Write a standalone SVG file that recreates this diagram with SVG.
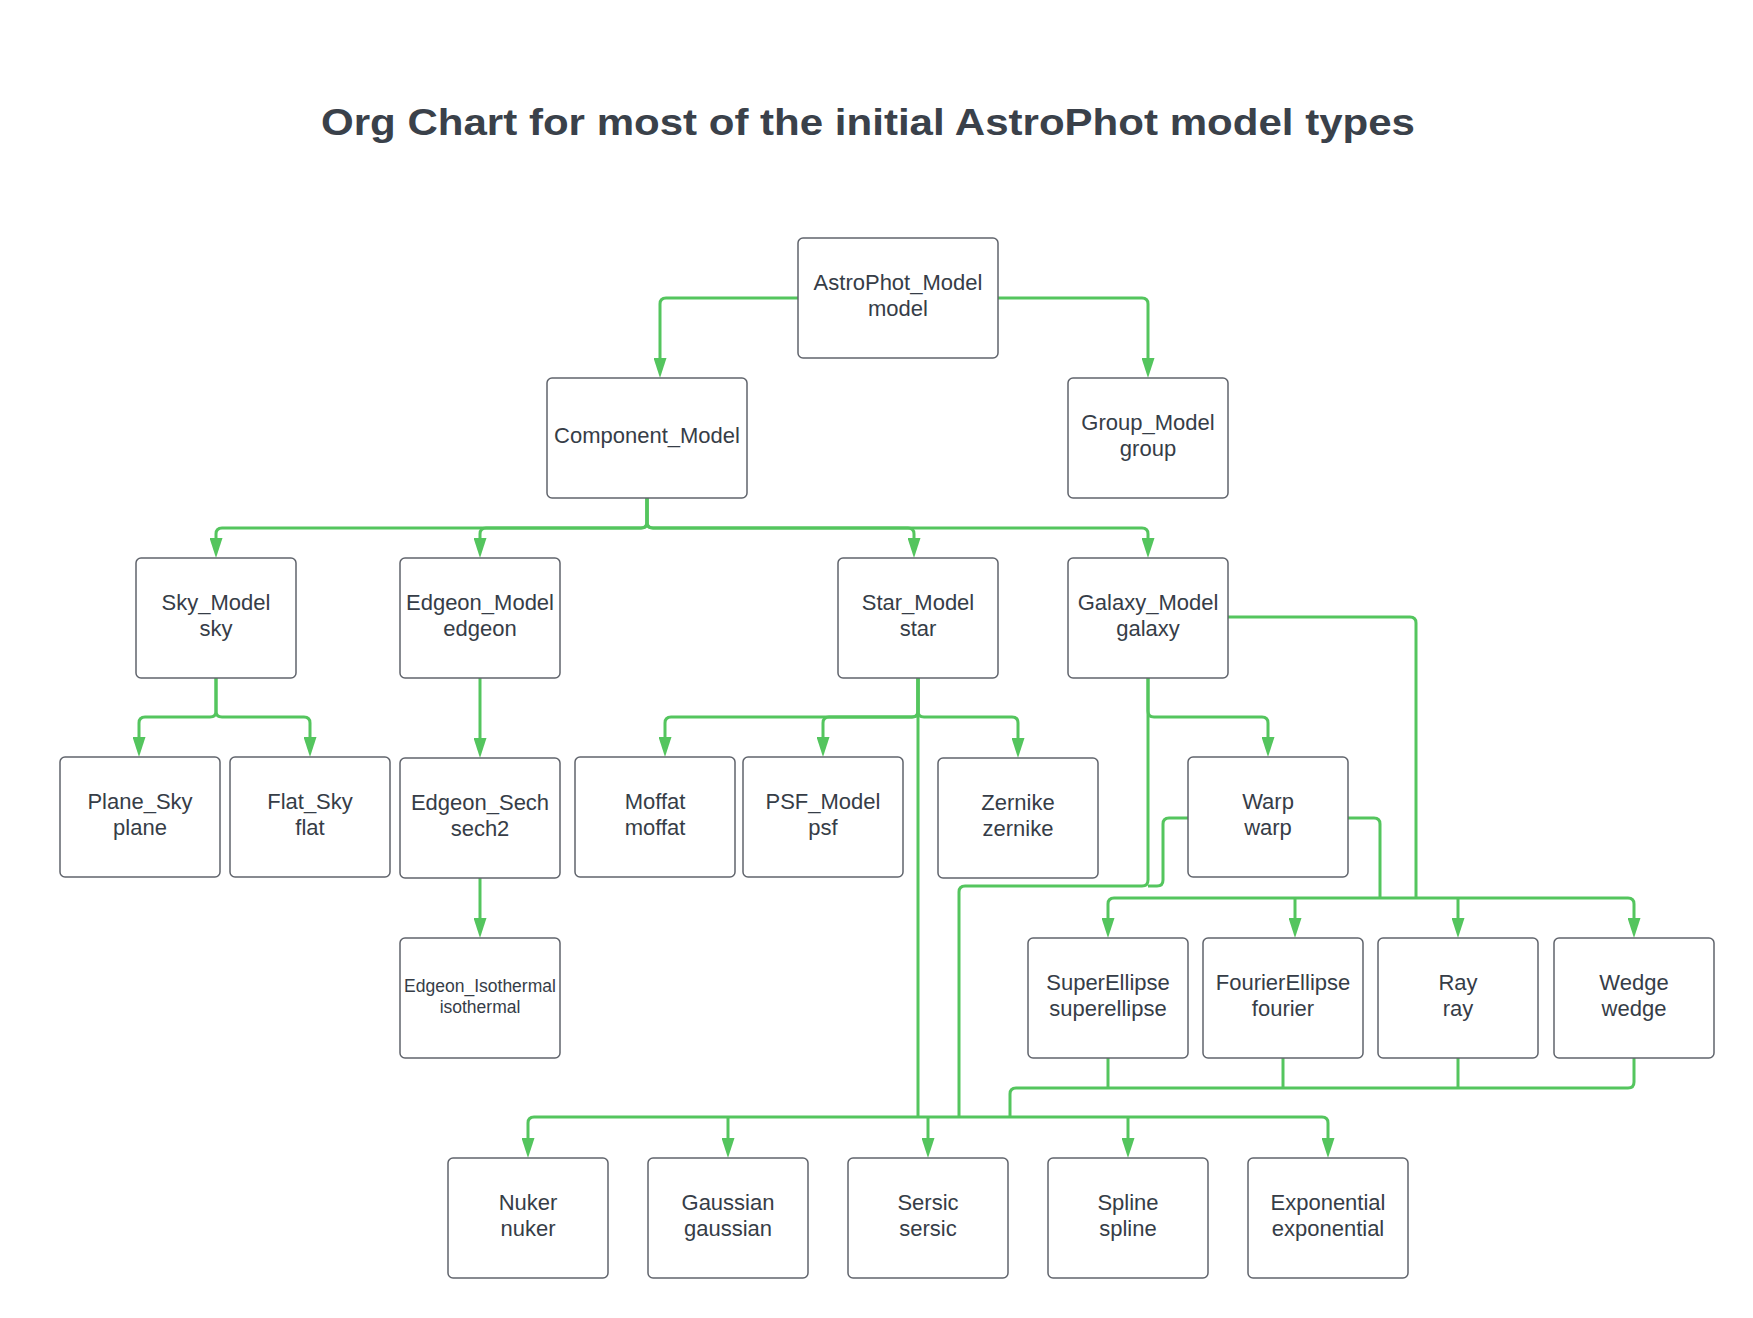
<svg xmlns="http://www.w3.org/2000/svg" width="1753" height="1318" viewBox="0 0 1753 1318">
<style>
.bg{fill:#ffffff}
.box{fill:#ffffff;stroke:#60646c;stroke-width:1.5}
.t{font-family:"Liberation Sans",Arial,sans-serif;font-size:22px;fill:#363d47;text-anchor:middle}
.ts{font-family:"Liberation Sans",Arial,sans-serif;font-size:17.5px;fill:#363d47;text-anchor:middle}
.title{font-family:"Liberation Sans",Arial,sans-serif;font-size:36px;font-weight:bold;fill:#3a414a}
.c{fill:none;stroke:#54c55e;stroke-width:3;stroke-linejoin:round}
.a{marker-end:url(#arr)}
.aa{marker-start:url(#arrs);marker-end:url(#arr)}
</style>
<defs>
<marker id="arr" markerUnits="userSpaceOnUse" viewBox="0 0 20 13" markerWidth="20" markerHeight="13" refX="0" refY="6.5" orient="auto">
<path d="M0,0 L20,6.5 L0,13 z" fill="#54c55e"/>
</marker>
<marker id="arrs" markerUnits="userSpaceOnUse" viewBox="0 0 20 13" markerWidth="20" markerHeight="13" refX="0" refY="6.5" orient="auto-start-reverse">
<path d="M0,0 L20,6.5 L0,13 z" fill="#54c55e"/>
</marker>
</defs>
<rect class="bg" x="0" y="0" width="1753" height="1318"/>
<text class="title" x="321" y="135" textLength="1094" lengthAdjust="spacingAndGlyphs">Org Chart for most of the initial AstroPhot model types</text>

<g id="connectors">
<path class="c a" d="M798,298 H666 Q660,298 660,304 V358"/>
<path class="c a" d="M998,298 H1142 Q1148,298 1148,304 V358"/>
<path class="c a" d="M647,498 V522 Q647,528 641,528 H222 Q216,528 216,534 V538"/>
<path class="c a" d="M647,498 V522 Q647,528 641,528 H486 Q480,528 480,534 V538"/>
<path class="c a" d="M647,498 V522 Q647,528 653,528 H908 Q914,528 914,534 V538"/>
<path class="c a" d="M647,498 V522 Q647,528 653,528 H1142 Q1148,528 1148,534 V538"/>
<path class="c a" d="M216,678 V711 Q216,717 210,717 H145 Q139,717 139,723 V737"/>
<path class="c a" d="M216,678 V711 Q216,717 222,717 H304 Q310,717 310,723 V737"/>
<path class="c a" d="M480,678 V738"/>
<path class="c a" d="M480,878 V918"/>
<path class="c a" d="M918,678 V711 Q918,717 912,717 H671 Q665,717 665,723 V737"/>
<path class="c a" d="M918,678 V711 Q918,717 912,717 H829 Q823,717 823,723 V737"/>
<path class="c a" d="M918,678 V711 Q918,717 924,717 H1012 Q1018,717 1018,723 V738"/>
<path class="c a" d="M1148,678 V711 Q1148,717 1154,717 H1262 Q1268,717 1268,723 V737"/>
<path class="c" d="M918,678 V1117"/>
<path class="c" d="M1148,678 V880 Q1148,886 1142,886 H965 Q959,886 959,892 V1117"/>
<path class="c" d="M1188,818 H1169 Q1163,818 1163,824 V880 Q1163,886 1157,886 H1148"/>
<path class="c" d="M1228,617 H1410 Q1416,617 1416,623 V898"/>
<path class="c" d="M1348,818 H1374 Q1380,818 1380,824 V898"/>
<path class="c aa" d="M1108,918 V904 Q1108,898 1114,898 H1628 Q1634,898 1634,904 V918"/>
<path class="c a" d="M1295,898 V918"/>
<path class="c a" d="M1458,898 V918"/>
<path class="c" d="M1108,1058 V1088"/>
<path class="c" d="M1283,1058 V1088"/>
<path class="c" d="M1458,1058 V1088"/>
<path class="c" d="M1634,1058 V1082 Q1634,1088 1628,1088 H1016 Q1010,1088 1010,1094 V1117"/>
<path class="c aa" d="M528,1138 V1123 Q528,1117 534,1117 H1322 Q1328,1117 1328,1123 V1138"/>
<path class="c a" d="M728,1117 V1138"/>
<path class="c a" d="M928,1117 V1138"/>
<path class="c a" d="M1128,1117 V1138"/>
</g>

<g id="astrophot"><rect class="box" x="798" y="238" width="200" height="120" rx="5"/><text class="t" x="898" y="290">AstroPhot_Model</text><text class="t" x="898" y="316">model</text></g>
<g id="component"><rect class="box" x="547" y="378" width="200" height="120" rx="5"/><text class="t" x="647" y="443">Component_Model</text></g>
<g id="group"><rect class="box" x="1068" y="378" width="160" height="120" rx="5"/><text class="t" x="1148" y="430">Group_Model</text><text class="t" x="1148" y="456">group</text></g>

<g id="sky"><rect class="box" x="136" y="558" width="160" height="120" rx="5"/><text class="t" x="216" y="610">Sky_Model</text><text class="t" x="216" y="636">sky</text></g>
<g id="edgeon"><rect class="box" x="400" y="558" width="160" height="120" rx="5"/><text class="t" x="480" y="610">Edgeon_Model</text><text class="t" x="480" y="636">edgeon</text></g>
<g id="star"><rect class="box" x="838" y="558" width="160" height="120" rx="5"/><text class="t" x="918" y="610">Star_Model</text><text class="t" x="918" y="636">star</text></g>
<g id="galaxy"><rect class="box" x="1068" y="558" width="160" height="120" rx="5"/><text class="t" x="1148" y="610">Galaxy_Model</text><text class="t" x="1148" y="636">galaxy</text></g>

<g id="plane"><rect class="box" x="60" y="757" width="160" height="120" rx="5"/><text class="t" x="140" y="809">Plane_Sky</text><text class="t" x="140" y="835">plane</text></g>
<g id="flat"><rect class="box" x="230" y="757" width="160" height="120" rx="5"/><text class="t" x="310" y="809">Flat_Sky</text><text class="t" x="310" y="835">flat</text></g>
<g id="sech"><rect class="box" x="400" y="758" width="160" height="120" rx="5"/><text class="t" x="480" y="810">Edgeon_Sech</text><text class="t" x="480" y="836">sech2</text></g>
<g id="moffat"><rect class="box" x="575" y="757" width="160" height="120" rx="5"/><text class="t" x="655" y="809">Moffat</text><text class="t" x="655" y="835">moffat</text></g>
<g id="psf"><rect class="box" x="743" y="757" width="160" height="120" rx="5"/><text class="t" x="823" y="809">PSF_Model</text><text class="t" x="823" y="835">psf</text></g>
<g id="zernike"><rect class="box" x="938" y="758" width="160" height="120" rx="5"/><text class="t" x="1018" y="810">Zernike</text><text class="t" x="1018" y="836">zernike</text></g>
<g id="warp"><rect class="box" x="1188" y="757" width="160" height="120" rx="5"/><text class="t" x="1268" y="809">Warp</text><text class="t" x="1268" y="835">warp</text></g>

<g id="isothermal"><rect class="box" x="400" y="938" width="160" height="120" rx="5"/><text class="ts" x="480" y="992">Edgeon_Isothermal</text><text class="ts" x="480" y="1013">isothermal</text></g>
<g id="superellipse"><rect class="box" x="1028" y="938" width="160" height="120" rx="5"/><text class="t" x="1108" y="990">SuperEllipse</text><text class="t" x="1108" y="1016">superellipse</text></g>
<g id="fourier"><rect class="box" x="1203" y="938" width="160" height="120" rx="5"/><text class="t" x="1283" y="990">FourierEllipse</text><text class="t" x="1283" y="1016">fourier</text></g>
<g id="ray"><rect class="box" x="1378" y="938" width="160" height="120" rx="5"/><text class="t" x="1458" y="990">Ray</text><text class="t" x="1458" y="1016">ray</text></g>
<g id="wedge"><rect class="box" x="1554" y="938" width="160" height="120" rx="5"/><text class="t" x="1634" y="990">Wedge</text><text class="t" x="1634" y="1016">wedge</text></g>

<g id="nuker"><rect class="box" x="448" y="1158" width="160" height="120" rx="5"/><text class="t" x="528" y="1210">Nuker</text><text class="t" x="528" y="1236">nuker</text></g>
<g id="gaussian"><rect class="box" x="648" y="1158" width="160" height="120" rx="5"/><text class="t" x="728" y="1210">Gaussian</text><text class="t" x="728" y="1236">gaussian</text></g>
<g id="sersic"><rect class="box" x="848" y="1158" width="160" height="120" rx="5"/><text class="t" x="928" y="1210">Sersic</text><text class="t" x="928" y="1236">sersic</text></g>
<g id="spline"><rect class="box" x="1048" y="1158" width="160" height="120" rx="5"/><text class="t" x="1128" y="1210">Spline</text><text class="t" x="1128" y="1236">spline</text></g>
<g id="exponential"><rect class="box" x="1248" y="1158" width="160" height="120" rx="5"/><text class="t" x="1328" y="1210">Exponential</text><text class="t" x="1328" y="1236">exponential</text></g>
</svg>
